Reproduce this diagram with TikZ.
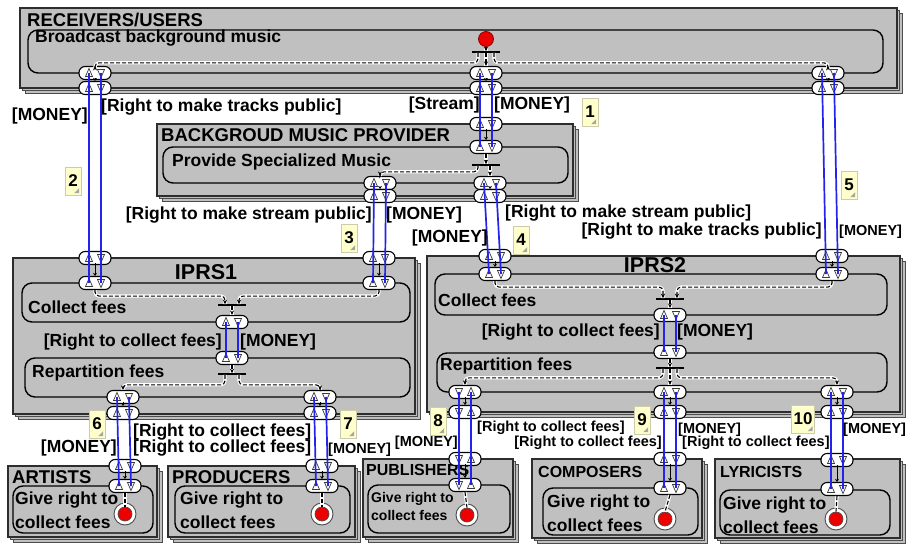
\documentclass[tikz,border=0pt]{standalone}
\usepackage{fontspec}
\setmainfont{Liberation Sans}
\usetikzlibrary{arrows.meta}
\definecolor{actorfill}{RGB}{192,192,192}
\definecolor{edgegray}{RGB}{45,45,45}
\definecolor{vblue}{RGB}{35,35,235}
\definecolor{notefill}{RGB}{255,255,204}
\definecolor{stimred}{RGB}{236,0,0}

\newcommand{\fLab}{\fontsize{17.5}{20}\selectfont\bfseries}
\newcommand{\fSml}{\fontsize{14.5}{17}\selectfont\bfseries}
\newcommand{\fTtl}{\fontsize{18.5}{22}\selectfont\bfseries}
\newcommand{\fBig}{\fontsize{21.5}{25}\selectfont\bfseries}
\newcommand{\fMid}{\fontsize{16}{19}\selectfont\bfseries}
\newcommand{\fAct}{\fontsize{17.5}{24}\selectfont\bfseries}
\newcommand{\fActS}{\fontsize{14}{18}\selectfont\bfseries}

% stacked actor: two back layers and the front box
\newcommand{\actorstack}[4]{%
  \draw[backlayer,shift={(5,5)}] (#1,#2) rectangle (#3,#4);
  \draw[backlayer,shift={(2.5,2.5)}] (#1,#2) rectangle (#3,#4);
  \draw[actorbox] (#1,#2) rectangle (#3,#4);}
% value interface with an in-port and an out-port
\newcommand{\ifcUD}[3]{%
  \node[pill] (#1) at (#2,#3) {};
  \pic at ([xshift=-6pt]#1.center) {tup};
  \pic at ([xshift=6pt]#1.center) {tdown};}
\newcommand{\ifcDU}[3]{%
  \node[pill] (#1) at (#2,#3) {};
  \pic at ([xshift=-6pt]#1.center) {tdown};
  \pic at ([xshift=6pt]#1.center) {tup};}
% value exchange pair between two interfaces
\newcommand{\vexch}[2]{%
  \draw[vx] ([xshift=-6pt]#1.center) -- ([xshift=-6pt]#2.center);
  \draw[vx] ([xshift=6pt]#1.center) -- ([xshift=6pt]#2.center);}
% short link between activity interface and actor interface
\newcommand{\ilink}[2]{%
  \draw[ilinkstyle] ([yshift=2pt]#1.south) -- (#2.north);}
% numbered note
\newcommand{\notemark}[4]{%
  \node[note,minimum width=#4] (#1) at (#2) {#3};
  \fill[gray!70] ([xshift=-2pt,yshift=2pt]#1.south east) -- ++(-5,0) -- ++(5,-5) -- cycle;}

\begin{document}
\begin{tikzpicture}[x=1pt,y=-1pt,
  actorbox/.style={fill=actorfill,draw=edgegray,line width=1.4pt},
  backlayer/.style={fill=actorfill,draw=edgegray!85,line width=0.9pt},
  activity/.style={draw=black,line width=1.4pt,rounded corners=10pt},
  pill/.style={draw=black,line width=1.1pt,fill=white,rounded corners=6pt,
    minimum width=32pt,minimum height=13pt,inner sep=0pt},
  tup/.pic={\draw[tri] (-3.5,3.5) -- (3.5,3.5) -- (0,-4.5) -- cycle;},
  tdown/.pic={\draw[tri] (-3.5,-3.5) -- (3.5,-3.5) -- (0,4.5) -- cycle;},
  tri/.style={draw=gray!45!black,fill=white,line width=0.7pt},
  vx/.style={draw=vblue,line width=1.7pt},
  dep/.style={black,line width=1.1pt,dash pattern=on 4pt off 2pt,rounded corners=4pt,
    preaction={draw=white,line width=3.2pt,solid,-}},
  deparrow/.style={dep,-{Stealth[length=4.5pt,width=4pt]}},
  ilinkstyle/.style={black,line width=0.8pt,-{Stealth[length=3pt,width=4pt]}},
  andbar/.style={fill=black,inner sep=0pt,minimum width=28pt,minimum height=1.2pt},
  startstim/.style={circle,fill=stimred,draw=red!55!black,line width=0.8pt,minimum size=15pt,inner sep=0pt},
  endring/.style={circle,fill=white,draw=gray!60!black,line width=0.9pt,minimum size=22pt,inner sep=0pt},
  endcore/.style={circle,fill=stimred,draw=black!70,line width=0.7pt,minimum size=14pt,inner sep=0pt},
  lab/.style={inner sep=0pt,font=\fLab},
  slab/.style={inner sep=0pt,font=\fSml},
  note/.style={fill=notefill,draw=notefill!60!gray,line width=0.4pt,minimum height=28pt,
    inner sep=0pt,font=\fontsize{17}{20}\selectfont\bfseries}]

\useasboundingbox (0,0) rectangle (914,547);
\fill[white] (0,0) rectangle (914,547);

% ---------------- actors and activities ----------------
\actorstack{20}{8}{897}{88}
\draw[activity] (28,30) rectangle (883,73);
\node[inner sep=0pt,anchor=west,font=\fTtl] (tRec) at (27,20) {RECEIVERS/USERS};
\node[lab,anchor=west] (aRec) at (35,38) {Broadcast background music};

\actorstack{157}{124}{573}{196}
\draw[activity] (163,147) rectangle (568,183);
\node[inner sep=0pt,anchor=west,font=\fTtl] (tProv) at (161,135) {BACKGROUD MUSIC PROVIDER};
\node[lab,anchor=west] (aProv) at (172,162) {Provide Specialized Music};

\actorstack{13}{258}{415}{414}
\draw[activity] (22,283) rectangle (410,322);
\draw[activity] (25,358) rectangle (410,397);
\node[inner sep=0pt,font=\fBig] (tI1) at (206,272) {IPRS1};
\node[lab,anchor=west] (aI1c) at (28,307) {Collect fees};
\node[lab,anchor=west] (aI1r) at (32,373) {Repartition fees};

\actorstack{427}{256}{900}{412}
\draw[activity] (435,274) rectangle (887,315);
\draw[activity] (437,353) rectangle (887,392);
\node[inner sep=0pt,font=\fBig] (tI2) at (655,265) {IPRS2};
\node[lab,anchor=west] (aI2c) at (438,300) {Collect fees};
\node[lab,anchor=west] (aI2r) at (440,366) {Repartition fees};

\actorstack{8}{466}{157}{537}
\draw[activity] (13,486) rectangle (153,533);
\node[inner sep=0pt,anchor=west,font=\fTtl] (tArt) at (12,477) {ARTISTS};
\node[inner sep=0pt,anchor=west,align=left,font=\fAct] (aArt) at (15,510) {Give right to\\collect fees};

\actorstack{168}{466}{355}{537}
\draw[activity] (175,486) rectangle (350,533);
\node[inner sep=0pt,anchor=west,font=\fTtl] (tProd) at (172,477) {PRODUCERS};
\node[inner sep=0pt,anchor=west,align=left,font=\fAct] (aProd) at (180,510) {Give right to\\collect fees};

\actorstack{363}{459}{513}{537}
\draw[activity] (368,485) rectangle (510,533);
\node[inner sep=0pt,anchor=west,font=\fMid] (tPub) at (366,470) {PUBLISHERS};
\node[inner sep=0pt,anchor=west,align=left,font=\fActS] (aPub) at (371,506) {Give right to\\collect fees};

\actorstack{532}{459}{702}{538}
\draw[activity] (543,488) rectangle (698,535);
\node[inner sep=0pt,anchor=west,font=\fMid] (tComp) at (538,472) {COMPOSERS};
\node[inner sep=0pt,anchor=west,align=left,font=\fAct] (aComp) at (547,513) {Give right to\\collect fees};

\actorstack{715}{459}{900}{538}
\draw[activity] (720,490) rectangle (890,535);
\node[inner sep=0pt,anchor=west,font=\fMid] (tLyr) at (720,472) {LYRICISTS};
\node[inner sep=0pt,anchor=west,align=left,font=\fAct] (aLyr) at (723,515) {Give right to\\collect fees};

% ---------------- value interfaces ----------------
\ifcUD{RLa}{95}{73}  \ifcUD{RLb}{95}{88}
\ifcUD{RMa}{486}{73} \ifcUD{RMb}{486}{88}
\ifcUD{RRa}{828}{73} \ifcUD{RRb}{828}{88}

\ifcUD{PTb}{486}{124} \ifcUD{PTa}{486}{147}
\ifcUD{PLa}{380}{183} \ifcUD{PLb}{380}{196}
\ifcUD{PRa}{490}{183} \ifcUD{PRb}{490}{196}

\ifcUD{ALb}{95}{258}  \ifcUD{ALa}{95}{283}
\ifcUD{ARb}{379}{258} \ifcUD{ARa}{379}{283}
\ifcUD{AMa}{232}{322} \ifcUD{AMb}{232}{358}
\ifcUD{ABLa}{123}{397} \ifcUD{ABLb}{123}{413}
\ifcUD{ABRa}{320}{397} \ifcUD{ABRb}{320}{413}

\ifcUD{BLb}{495}{256} \ifcUD{BLa}{495}{274}
\ifcUD{BRb}{832}{256} \ifcUD{BRa}{832}{274}
\ifcUD{BMa}{670}{315} \ifcUD{BMb}{670}{352}
\ifcDU{BBLa}{465}{392} \ifcDU{BBLb}{465}{412}
\ifcUD{BBMa}{670}{392} \ifcUD{BBMb}{670}{412}
\ifcUD{BBRa}{837}{392} \ifcUD{BBRb}{837}{412}

\ifcUD{TAb}{125}{466} \ifcUD{TAa}{125}{486}
\ifcUD{TPb}{322}{466} \ifcUD{TPa}{322}{486}
\ifcDU{TUb}{465}{459} \ifcDU{TUa}{465}{485}
\ifcUD{TCb}{670}{459} \ifcUD{TCa}{670}{488}
\ifcUD{TLb}{837}{460} \ifcUD{TLa}{837}{489}

% links between activity and actor interfaces
\ilink{RLa}{RLb} \ilink{RMa}{RMb} \ilink{RRa}{RRb}
\ilink{PTb}{PTa} \ilink{PLa}{PLb} \ilink{PRa}{PRb}
\ilink{ALb}{ALa} \ilink{ARb}{ARa} \ilink{ABLa}{ABLb} \ilink{ABRa}{ABRb}
\ilink{BLb}{BLa} \ilink{BRb}{BRa} \ilink{BBLa}{BBLb} \ilink{BBMa}{BBMb} \ilink{BBRa}{BBRb}
\ilink{TAb}{TAa} \ilink{TPb}{TPa} \ilink{TUb}{TUa} \ilink{TCb}{TCa} \ilink{TLb}{TLa}

% ---------------- stimuli and AND junctions ----------------
\node[startstim] (S0) at (486,39) {};
\node[andbar] (RB) at (486,52) {};
\node[andbar] (PB) at (486,165) {};
\node[andbar] (AB1) at (232,305) {};
\node[andbar] (AB2) at (232,374) {};
\node[andbar] (BB1) at (670,299) {};
\node[andbar] (BB2) at (670,368) {};

\node[endring] (EA) at (125,514) {}; \node[endcore] (EAc) at (EA) {};
\node[endring] (EP) at (322,514) {}; \node[endcore] (EPc) at (EP) {};
\node[endring] (EU) at (467,515) {}; \node[endcore] (EUc) at (EU) {};
\node[endring] (EC) at (665,519) {}; \node[endcore] (ECc) at (EC) {};
\node[endring] (EL) at (836,519) {}; \node[endcore] (ELc) at (EL) {};

% ---------------- dependency paths ----------------
\draw[deparrow] (S0.south) -- (RB.north);
\draw[deparrow] ([xshift=-8pt]RB.south) -- ++(0,10) -| (RLa.north);
\draw[deparrow] (RB.south) -- (RMa.north);
\draw[deparrow] ([xshift=8pt]RB.south) -- ++(0,10) -| (RRa.north);

\draw[deparrow] (PTa.south) -- (PB.north);
\draw[deparrow] ([xshift=-8pt]PB.south) -- ++(0,6) -| (PLa.north);
\draw[deparrow] (PB.south -| PRa.north) -- (PRa.north);

\draw[deparrow] (ALa.south) -- ++(0,6) -| ([xshift=-7pt]AB1.north);
\draw[deparrow] (ARa.south) -- ++(0,6) -| ([xshift=7pt]AB1.north);
\draw[deparrow] (AB1.south) -- (AMa.north);
\draw[deparrow] (AMb.south) -- (AB2.north);
\draw[deparrow] ([xshift=-7pt]AB2.south) -- ++(0,10) -| (ABLa.north);
\draw[deparrow] ([xshift=7pt]AB2.south) -- ++(0,10) -| (ABRa.north);

\draw[deparrow] (BLa.south) -- ++(0,6) -| ([xshift=-7pt]BB1.north);
\draw[deparrow] (BRa.south) -- ++(0,6) -| ([xshift=7pt]BB1.north);
\draw[deparrow] (BB1.south) -- (BMa.north);
\draw[deparrow] (BMb.south) -- (BB2.north);
\draw[deparrow] ([xshift=-7pt]BB2.south) -- ++(0,9) -| (BBLa.north);
\draw[deparrow] (BB2.south) -- (BBMa.north);
\draw[deparrow] ([xshift=7pt]BB2.south) -- ++(0,9) -| (BBRa.north);

\draw[dep] (TAa.south) -- (EAc.north);
\draw[dep] (TPa.south) -- (EPc.north);
\draw[dep] (TUa.south) -- (EUc.north);
\draw[dep] (TCa.south) -- (ECc.north);
\draw[dep] (TLa.south) -- (ELc.north);

% ---------------- value exchanges ----------------
\vexch{RMa}{PTa}
\vexch{RLa}{ALa}
\vexch{PLa}{ARa}
\vexch{PRa}{BLa}
\vexch{RRa}{BRa}
\vexch{AMa}{AMb}
\vexch{BMa}{BMb}
\vexch{ABLa}{TAa}
\vexch{ABRa}{TPa}
\vexch{BBLa}{TUa}
\vexch{BBMa}{TCa}
\vexch{BBRa}{TLa}

% ---------------- value object labels ----------------
\node[lab,anchor=east] (x1a) at (480,105) {[Stream]};
\node[lab,anchor=west] (x1b) at (494,105) {[MONEY]};
\node[lab,anchor=east] (x2a) at (88,116) {[MONEY]};
\node[lab,anchor=west] (x2b) at (101,107) {[Right to make tracks public]};
\node[lab,anchor=east] (x3a) at (372,215) {[Right to make stream public]};
\node[lab,anchor=west] (x3b) at (386,215) {[MONEY]};
\node[lab,anchor=east] (x4a) at (488,238) {[MONEY]};
\node[lab,anchor=west] (x4b) at (505,213) {[Right to make stream public]};
\node[lab,anchor=east] (x5a) at (822,231) {[Right to make tracks public]};
\node[slab,anchor=west] (x5b) at (839,232) {[MONEY]};
\node[lab,anchor=east] (xi1a) at (222,342) {[Right to collect fees]};
\node[lab,anchor=west] (xi1b) at (240,342) {[MONEY]};
\node[lab,anchor=east] (xi2a) at (660,332) {[Right to collect fees]};
\node[lab,anchor=west] (xi2b) at (677,332) {[MONEY]};
\node[lab,anchor=east] (x6a) at (117,448) {[MONEY]};
\node[lab,anchor=west] (x6b) at (133,432) {[Right to collect fees]};
\node[lab,anchor=west] (x7a) at (133,448) {[Right to collect fees]};
\node[slab,anchor=west] (x7b) at (328,450) {[MONEY]};
\node[slab,anchor=east] (x8a) at (458,443) {[MONEY]};
\node[slab,anchor=west] (x8b) at (477,428) {[Right to collect fees]};
\node[slab,anchor=east] (x9a) at (662,443) {[Right to collect fees]};
\node[slab,anchor=west] (x9b) at (678,430) {[MONEY]};
\node[slab,anchor=west] (x10a) at (682,443) {[Right to collect fees]};
\node[slab,anchor=west] (x10b) at (843,430) {[MONEY]};

% ---------------- numbered notes ----------------
\notemark{n1}{590,112}{1}{16pt}
\notemark{n2}{73,181}{2}{16pt}
\notemark{n3}{349,238}{3}{16pt}
\notemark{n4}{521,240}{4}{16pt}
\notemark{n5}{849,185}{5}{16pt}
\notemark{n6}{97,424}{6}{16pt}
\notemark{n7}{348,424}{7}{16pt}
\notemark{n8}{438,421}{8}{16pt}
\notemark{n9}{642,420}{9}{16pt}
\notemark{n10}{803,419}{10}{23pt}

\end{tikzpicture}
\end{document}
